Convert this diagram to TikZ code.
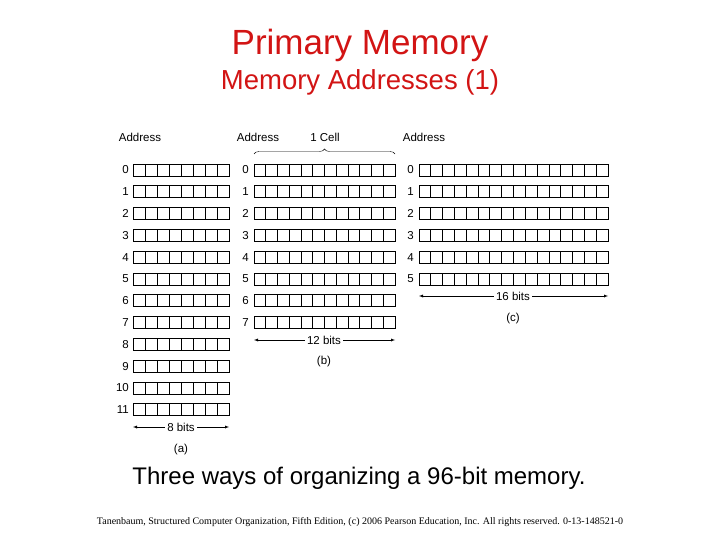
\documentclass[tikz,border=0pt]{standalone}
\usepackage{fontspec}
\setmainfont{Liberation Sans}
\newfontfamily\serifx{Liberation Serif}
\usetikzlibrary{decorations.pathreplacing}
\definecolor{tred}{RGB}{210,20,20}
\begin{document}
\begin{tikzpicture}[x=1pt,y=-1pt,
  lbl/.style={font=\fontsize{11.5}{13}\selectfont,inner sep=0},
  dim/.style={<->,>=latex,thin}]
\useasboundingbox (0,0) rectangle (720,540);
\node (t1) at (360,45) {\fontsize{35}{40}\selectfont\color{tred}Primary Memory};
\node (t2) at (360,82) {\fontsize{27.5}{32}\selectfont\color{tred}Memory Addresses (1)};
% grids
\foreach \xa/\w/\n/\rows/\nx in {133/12/8/11/129, 254/11.75/12/7/249, 419/11.81/16/5/414}{
  \foreach \r in {0,...,\rows}{
    \pgfmathsetmacro\yy{164+21.8*\r}
    \foreach \c in {1,...,\n}{
      \draw[line width=0.8pt] ({\xa+(\c-1)*\w},\yy) rectangle ++(\w,12);
    }
    \node[lbl,anchor=east] at (\nx,\yy+6) {\r};
  }
}
\node[lbl] (aa) at (140,137) {Address};
\node[lbl] (ab) at (258,137) {Address};
\node[lbl] (ac) at (424,137) {Address};
\node[lbl] (cell) at (325,137) {1 Cell};
\draw[decorate,decoration={brace,amplitude=5pt}] (254,154) -- (395,154);
% dimensions
\draw[dim] (133,427) -- (229,427);
\node[lbl,fill=white,inner sep=2pt] (d8) at (181,427) {8 bits};
\draw[dim] (254,340) -- (395,340);
\node[lbl,fill=white,inner sep=2pt] (d12) at (324,340) {12 bits};
\draw[dim] (419,296) -- (608,296);
\node[lbl,fill=white,inner sep=2pt] (d16) at (513,296) {16 bits};
\node[lbl] (la) at (181,450) {(a)};
\node[lbl] (lb) at (324,362) {(b)};
\node[lbl] (lc) at (513,319) {(c)};
\node (cap) at (359,478) {\fontsize{24}{28}\selectfont Three ways of organizing a 96-bit memory.};
\node (ft) at (360,522) {\serifx\fontsize{10}{12}\selectfont Tanenbaum, Structured Computer Organization, Fifth Edition, (c) 2006 Pearson Education, Inc. All rights reserved. 0-13-148521-0};
\end{tikzpicture}
\end{document}
